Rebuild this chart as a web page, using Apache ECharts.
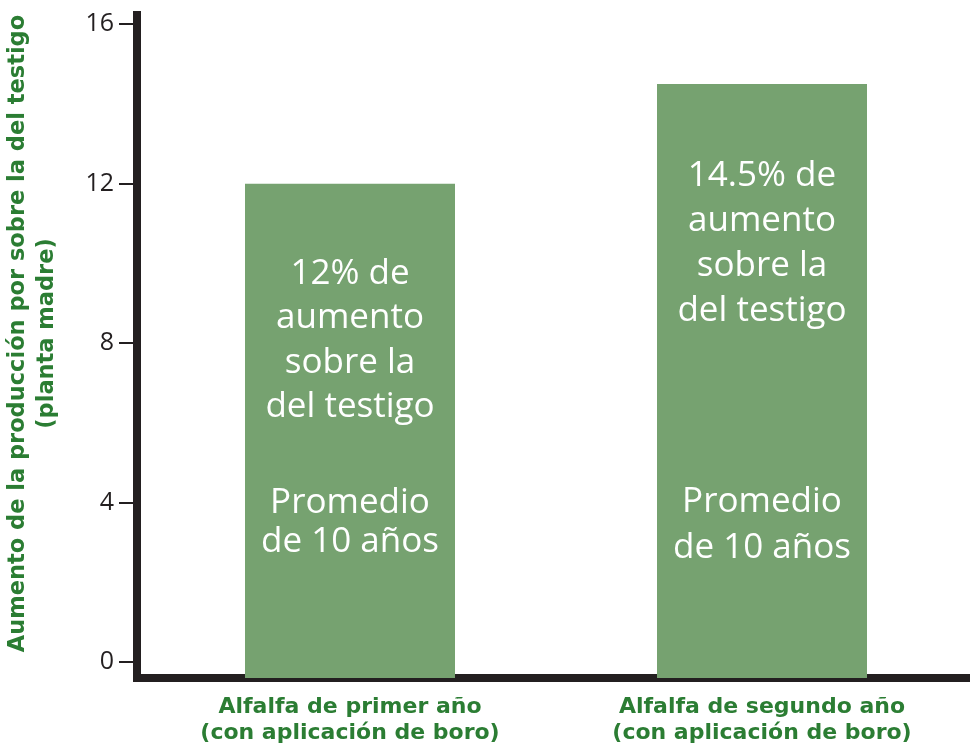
<!DOCTYPE html>
<html style="height: 100%">
<head>
<meta charset="utf-8">
<script src="https://cdn.jsdelivr.net/npm/echarts@6/dist/echarts.min.js"></script>
</head>
<body style="height: 100%; margin: 0; background: #fff">
<div id="container" style="width: 970px; height: 754px"></div>
<script>
// data
var categories = ['Alfalfa de primer año\n(con aplicación de boro)', 'Alfalfa de segundo año\n(con aplicación de boro)'];
var increase = [12, 14.5];
var topNotes = ['12% de\naumento\nsobre la\ndel testigo', '14.5% de\naumento\nsobre la\ndel testigo'];
var bottomNotes = ['Promedio\nde 10 años', 'Promedio\nde 10 años'];
var yTicks = [0, 4, 8, 12, 16];

var GREEN = '#76a270';
var TEXT_GREEN = '#2b7d33';
var DARK = '#231f20';
var Y_MIN = -0.4, Y_MAX = 16.23;

// per-bar label spacing (the two bars are not laid out the same in the original)
var topLayout = [{distance: 68, lineHeight: 44.5}, {distance: 70, lineHeight: 45}];
var bottomLayout = [{distance: 101, lineHeight: 39}, {distance: 91, lineHeight: 46}];

var labelFont = {color: '#fff', fontFamily: 'Open Sans', fontSize: 35};

var mainData = increase.map(function (v, i) {
    return {
        value: v,
        label: Object.assign({show: true, position: 'insideTop', formatter: topNotes[i]}, labelFont, topLayout[i])
    };
});
// small piece under zero so the bars run down to the axis line
var baseData = increase.map(function (v, i) {
    return {
        value: Y_MIN,
        label: Object.assign({show: true, position: 'top', formatter: bottomNotes[i]}, labelFont, bottomLayout[i])
    };
});

var myChart = echarts.init(document.getElementById('container'));

var option = {
    animation: false,
    grid: {left: 144, right: 2, top: 15, bottom: 76, outerBoundsMode: 'none'},
    xAxis: {
        type: 'category',
        data: categories,
        axisLine: {onZero: false, lineStyle: {color: DARK, width: 8, cap: 'square'}},
        axisTick: {show: false},
        axisLabel: {
            color: TEXT_GREEN, fontFamily: 'DejaVu Sans', fontWeight: 'bold',
            fontSize: 22, lineHeight: 26, margin: 16, interval: 0
        }
    },
    yAxis: {
        type: 'value',
        min: Y_MIN,
        max: Y_MAX,
        offset: 7,
        splitLine: {show: false},
        axisLine: {show: true, lineStyle: {color: DARK, width: 8, cap: 'square'}},
        axisTick: {show: true, length: 18, customValues: yTicks, lineStyle: {color: DARK, width: 2}},
        axisLabel: {customValues: yTicks, margin: 23, color: DARK, fontFamily: 'Open Sans', fontSize: 25},
        name: 'Aumento de la producción por sobre la del testigo\n(planta madre)',
        nameLocation: 'middle',
        nameRotate: 90,
        nameGap: 75,
        nameTextStyle: {
            color: TEXT_GREEN, fontFamily: 'DejaVu Sans', fontWeight: 'bold',
            fontSize: 22.5, lineHeight: 29, padding: [0, 0, 0, 26]
        }
    },
    series: [
        {type: 'bar', stack: 'bar', barWidth: 210, data: mainData, itemStyle: {color: GREEN}},
        {type: 'bar', stack: 'bar', barWidth: 210, data: baseData, itemStyle: {color: GREEN}}
    ]
};

myChart.setOption(option);
</script>
</body>
</html>
